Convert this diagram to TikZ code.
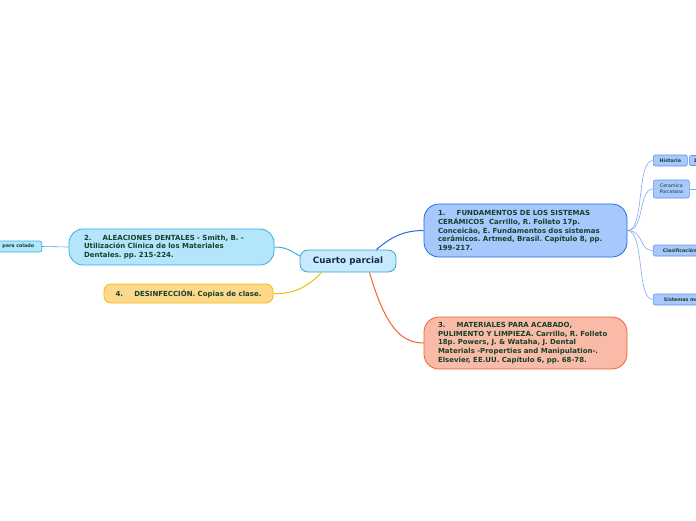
\documentclass[tikz,border=0pt]{standalone}
\usepackage{fontspec}
\setmainfont{DejaVu Sans}
\usetikzlibrary{calc}
\frenchspacing
\definecolor{txt}{HTML}{17402C}
\definecolor{navy}{HTML}{1B2A50}
\definecolor{cfill}{HTML}{C6E9FB}\definecolor{cdraw}{HTML}{3AA0DC}
\definecolor{afill}{HTML}{A7C8FC}\definecolor{adraw}{HTML}{1D6BE0}
\definecolor{bfill}{HTML}{F9BBA7}\definecolor{bdraw}{HTML}{F4602E}
\definecolor{dfill}{HTML}{B3E5FB}\definecolor{ddraw}{HTML}{37AEE8}
\definecolor{efill}{HTML}{FDD98B}\definecolor{edraw}{HTML}{F6B80A}
\definecolor{sfill}{HTML}{A9C8FB}\definecolor{sdraw}{HTML}{5C94EA}
\definecolor{sline}{HTML}{7FAAEE}
\begin{document}
\begin{tikzpicture}[x=1pt,y=-1pt,
  topic/.style={rounded corners=15pt,line width=0.8pt,inner sep=0pt,
    font=\bfseries\fontsize{7}{8.7}\selectfont,text=txt},
  small/.style={rounded corners=2pt,line width=0.6pt,draw=sdraw,fill=sfill,
    inner sep=0pt,font=\bfseries\fontsize{4.8}{5.8}\selectfont,text=txt},
  conn/.style={line width=1pt}]
\useasboundingbox (0,0) rectangle (696,520);
\clip (0,0) rectangle (696,520);
% center
\node[rounded corners=8pt,draw=cdraw,fill=cfill,line width=0.8pt,
  minimum width=96pt,minimum height=22pt,inner sep=0pt,
  font=\bfseries\fontsize{8.8}{10}\selectfont,text=navy] (c) at (348,261) {Cuarto parcial};
% topic 1
\node[topic,draw=adraw,fill=afill,minimum width=203pt,minimum height=53pt,
  text width=175pt,align=left] (n1) at (525.5,230.5)
  {1.\hspace{1.6em}FUNDAMENTOS DE LOS SISTEMAS\\CERÁMICOS\ \ Carrillo, R. Folleto 17p.\\Conceicão, E. Fundamentos dos sistemas\\cerâmicos. Artmed, Brasil. Capítulo 8, pp.\\199-217.};
% topic 3
\node[topic,draw=bdraw,fill=bfill,minimum width=203pt,minimum height=52pt,
  text width=175pt,align=left] (n3) at (525.5,343)
  {3.\hspace{1.6em}MATERIALES PARA ACABADO,\\PULIMENTO Y LIMPIEZA. Carrillo, R. Folleto\\18p. Powers, J. \& Wataha, J. Dental\\Materials -Properties and Manipulation-.\\Elsevier, EE.UU. Capítulo 6, pp. 68-78.};
% topic 2
\node[topic,rounded corners=14pt,draw=ddraw,fill=dfill,minimum width=205pt,minimum height=36pt,
  text width=175pt,align=left] (n2) at (171.5,247)
  {2.\hspace{1.6em}ALEACIONES DENTALES - Smith, B. -\\Utilización Clínica de los Materiales\\Dentales. pp. 215-224.};
% topic 4
\node[topic,rounded corners=7pt,draw=edraw,fill=efill,minimum width=169pt,minimum height=19pt] (n4) at (188.5,293.5)
  {4.\hspace{1.6em}DESINFECCIÓN. Copias de clase.};
% left subtopic
\node[small,draw=ddraw,fill=dfill,minimum width=60pt,minimum height=11pt,anchor=east] (p) at (42,246.5)
  {\hspace{13pt}para colado\hspace{2pt}};
% right subtopics
\node[small,minimum width=34pt,minimum height=11pt,anchor=west] (h) at (653,160.5) {Historia};
\node[small,minimum width=12pt,minimum height=10pt,anchor=west] (h1) at (689,160.5) {1};
\node[small,minimum width=36pt,minimum height=18pt,align=center,font=\fontsize{4.8}{5.8}\selectfont,anchor=west] (cp) at (653,189) {Ceramica\\Porcelana};
\coordinate (cpe) at (696,189);
\node[small,minimum width=50pt,minimum height=11pt,anchor=west] (cl) at (653,250.5) {\hspace{3pt}Clasificación\hspace{10pt}};
\node[small,minimum width=60pt,minimum height=11pt,anchor=west] (sm) at (653,299.5) {\hspace{3pt}Sistemas metal\hspace{10pt}};
% connectors
\draw[conn,draw=adraw] ($(c.north east)+(-20,0)$) .. controls (392,236) and (405,230.5) .. (n1.west);
\draw[conn,draw=bdraw] ($(c.south east)+(-27,0)$) .. controls (385,325) and (400,343) .. (n3.west);
\draw[conn,draw=ddraw] ($(c.west)+(0,-5)$) .. controls (290,250) and (285,247) .. (n2.east);
\draw[conn,draw=edraw] ($(c.south west)+(22,0)$) .. controls (305,290) and (290,294) .. (n4.east);
\draw[line width=0.6pt,draw=ddraw] (n2.west) -- (p.east);
\draw[line width=0.6pt,draw=sline] (n1.east) .. controls (645,231) and (636,160.5) .. (h.west);
\draw[line width=0.6pt,draw=sline] (n1.east) .. controls (645,231) and (638,189) .. (cp.west);
\draw[line width=0.6pt,draw=sline] (n1.east) .. controls (645,231) and (638,250.5) .. (cl.west);
\draw[line width=0.6pt,draw=sline] (n1.east) .. controls (645,231) and (636,299.5) .. (sm.west);
\draw[line width=0.6pt,draw=sline] (cp.east) -- (cpe);
\end{tikzpicture}
\end{document}
